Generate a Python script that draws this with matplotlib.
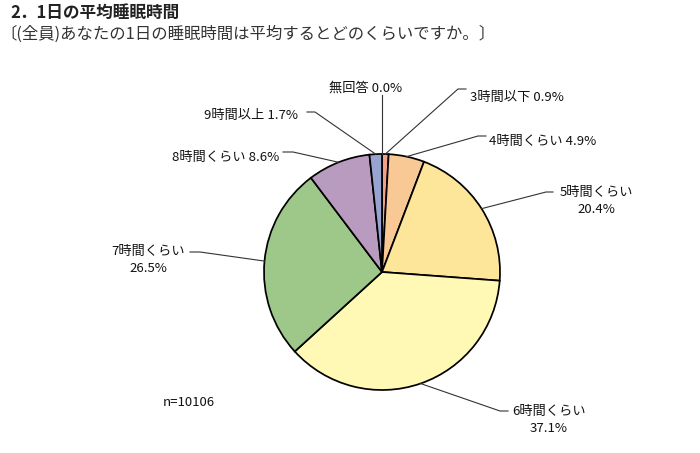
import numpy as np
import matplotlib.pyplot as plt

plt.rcParams['font.family'] = ['Noto Sans CJK JP', 'DejaVu Sans']

# data (clockwise from 12 o'clock)
categories = ["無回答", "3時間以下", "4時間くらい", "5時間くらい", "6時間くらい",
              "7時間くらい", "8時間くらい", "9時間以上"]
percents = [0.0, 0.9, 4.9, 20.4, 37.1, 26.5, 8.6, 1.7]
colors = ["#000000", "#F4A088", "#F9C995", "#FDE599", "#FFF9B5",
          "#9DC88A", "#B89BBF", "#98A3CF"]
n_total = 10106

title = "2．1日の平均睡眠時間"
subtitle = "〔(全員)あなたの1日の睡眠時間は平均するとどのくらいですか。〕"

W, H = 700, 453
# label layout in pixel coords (y down): elbow, line end, text pos, ha, two lines
layout = [
    ((382, 95), (382, 95), (366, 88), "center", False),
    ((458, 89), (466, 89), (470, 97), "left", False),
    ((478, 136), (486, 136), (489, 141), "left", False),
    ((546, 192), (553, 192), (596, 201), "center", True),
    ((500, 411), (508, 411), (549, 420), "center", True),
    ((200, 252), (190, 252), (148, 260), "center", True),
    ((293, 152), (283, 152), (279, 157), "right", False),
    ((315, 112), (307, 112), (298, 116), "right", False),
]

cx, cy, r = 382, 272, 118


def Y(py):
    return H - py


fig = plt.figure(figsize=(7, 4.53), dpi=100)
ax = fig.add_axes([0, 0, 1, 1])

wedges, _ = ax.pie(percents, colors=colors, startangle=90, counterclock=False,
                   center=(cx, Y(cy)), radius=r, normalize=True,
                   wedgeprops=dict(edgecolor="black", linewidth=1.25))
ax.set_xlim(0, W)
ax.set_ylim(0, H)
ax.set_aspect("equal")
ax.axis("off")

for w, cat, p, (elbow, end, tpos, ha, two) in zip(wedges, categories, percents, layout):
    ang = np.deg2rad((w.theta1 + w.theta2) / 2)
    ex = cx + r * np.cos(ang)
    ey = Y(cy) + r * np.sin(ang)
    ax.plot([ex, elbow[0], end[0]], [ey, Y(elbow[1]), Y(end[1])],
            color="#333333", lw=0.8, zorder=1)
    if two:
        txt = f"{cat}\n{p:.1f}%"
    else:
        txt = f"{cat} {p:.1f}%"
    ax.text(tpos[0], Y(tpos[1]), txt, ha=ha, va="center", fontsize=9.5,
            linespacing=1.45, multialignment="center", color="#111111")

ax.text(163, Y(403), f"n={n_total}", ha="left", va="center", fontsize=9.5,
        color="#111111")

fig.text(10 / W, 1 - 13 / H, title, ha="left", va="center", fontsize=12,
         fontweight="bold", color="#222222")
fig.text(0 / W, 1 - 34 / H, subtitle, ha="left", va="center", fontsize=11.8,
         color="#333333")

fig.savefig("out.png", dpi=100)
